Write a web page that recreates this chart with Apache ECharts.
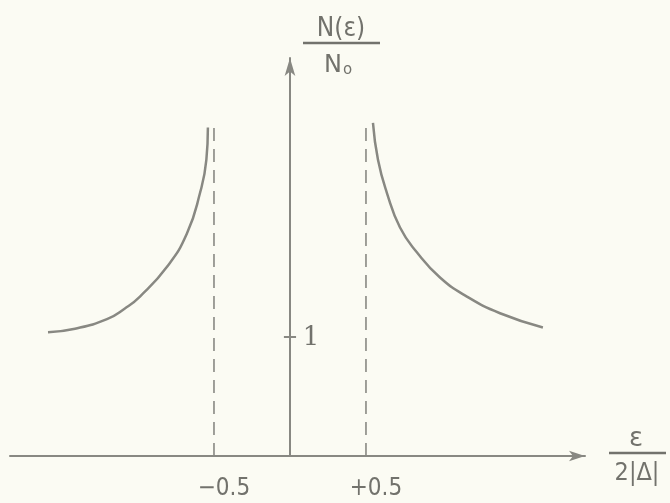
<!DOCTYPE html>
<html>
<head>
<meta charset="utf-8">
<script src="https://cdn.jsdelivr.net/npm/echarts@6/dist/echarts.min.js"></script>
<style>
html,body{margin:0;padding:0;background:#fbfbf3;}
#c{width:670px;height:503px;}
</style>
</head>
<body>
<div id="c"></div>
<script>
// Data (x = eps/(2|Delta|), y = N(eps)/N0)
const leftX  = [-1.592, -1.414, -1.204, -1.086, -0.987, -0.809, -0.678, -0.592, -0.550, -0.540];
const leftY  = [1.04, 1.07, 1.15, 1.24, 1.34, 1.59, 1.87, 2.21, 2.49, 2.76];
const rightX = [0.546, 0.579, 0.638, 0.724, 0.836, 0.987, 1.164, 1.382, 1.664];
const rightY = [2.80, 2.49, 2.21, 1.92, 1.71, 1.50, 1.34, 1.20, 1.08];
const gapX   = [-0.5, 0.5];
const gapTop = [2.77, 2.80];
const xTickValues = [-0.5, 0.5];
const xTickLabels = ['\u22120.5', '+0.5'];
const yTickValues = [1];
const yTickLabels = ['1'];

const ink = '#888882';
const txt = '#72726c';
const fam = '"DejaVu Sans", sans-serif';
const famC = '"DejaVu Sans Condensed", "DejaVu Sans", sans-serif';

const chart = echarts.init(document.getElementById('c'), null, {renderer: 'canvas'});

const series = [];
series.push({type:'line', data: leftX.map((x,i)=>[x,leftY[i]]), smooth:0.5, showSymbol:false,
  lineStyle:{color:ink, width:2.5}, z:3});
series.push({type:'line', data: rightX.map((x,i)=>[x,rightY[i]]), smooth:0.5, showSymbol:false,
  lineStyle:{color:ink, width:2.5}, z:3});
gapX.forEach((gx,i)=>{
  series.push({type:'line', data:[[gx,0],[gx,gapTop[i]]], showSymbol:false,
    lineStyle:{color:ink, width:1.6, type:[13,8]}, z:2});
});
yTickValues.forEach(v=>{
  series.push({type:'line', data:[[-0.04,v],[0.04,v]], showSymbol:false,
    lineStyle:{color:ink, width:2}, z:2});
});

chart.setOption({
  backgroundColor:'#fbfbf3',
  animation:false,
  grid:{left:10, right:85, top:58, bottom:47, containLabel:false},
  xAxis:{type:'value', min:-1.842, max:1.941,
    axisLine:{show:true, onZero:true, symbol:['none','arrow'], symbolSize:[8,16], lineStyle:{color:ink, width:2}},
    axisTick:{show:false}, axisLabel:{show:false}, splitLine:{show:false}},
  yAxis:{type:'value', min:0, max:3.345,
    axisLine:{show:true, onZero:true, symbol:['none','arrow'], symbolSize:[8,18], lineStyle:{color:ink, width:2}},
    axisTick:{show:false}, axisLabel:{show:false}, splitLine:{show:false}},
  series: series
});

function ts(text, size, extra){
  return Object.assign({text:text, fill:txt, fontSize:size, fontFamily:fam, align:'center', verticalAlign:'middle'}, extra||{});
}
const g = [];
xTickValues.forEach((v,i)=>{
  const p = chart.convertToPixel({gridIndex:0}, [v,0]);
  g.push({type:'text', x:p[0]+10, y:489, style:ts(xTickLabels[i], 24, {fontFamily:famC})});
});
yTickValues.forEach((v,i)=>{
  const p = chart.convertToPixel({gridIndex:0}, [0,v]);
  g.push({type:'text', x:p[0]+21, y:p[1]+1, style:ts(yTickLabels[i], 26, {fontFamily:'"DejaVu Serif", serif'})});
});
// y axis title N(eps)/N0
g.push({type:'text', x:341, y:29, style:ts('N(\u03b5)', 26, {fontFamily:famC})});
g.push({type:'line', shape:{x1:303, y1:43, x2:380, y2:43}, style:{stroke:txt, lineWidth:2.5}});
g.push({type:'text', x:338, y:66, style:{rich:{a:{fill:txt, fontSize:24, fontFamily:fam}, b:{fill:txt, fontSize:15, fontFamily:fam, padding:[9,0,0,1]}}, text:'{a|N}{b|o}', align:'center', verticalAlign:'middle'}});
// x axis title eps / 2|Delta|
g.push({type:'text', x:636, y:439, style:ts('\u03b5', 26)});
g.push({type:'line', shape:{x1:609, y1:453, x2:666, y2:453}, style:{stroke:txt, lineWidth:2.5}});
g.push({type:'text', x:637, y:473, style:ts('2|\u0394|', 25, {fontFamily:famC})});
chart.setOption({graphic: g});
</script>
</body>
</html>
